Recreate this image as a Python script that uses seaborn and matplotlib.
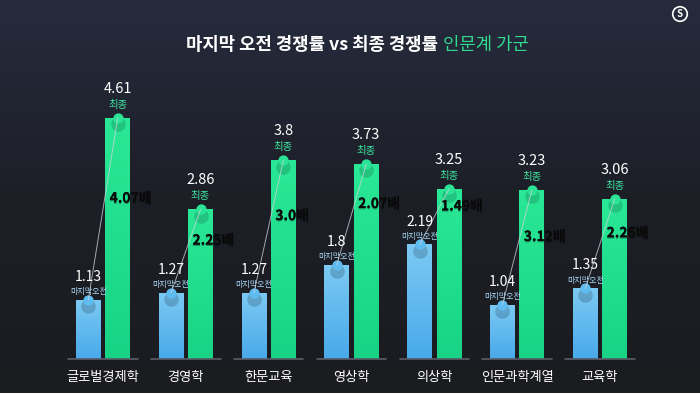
import numpy as np
import pandas as pd
import seaborn as sns
import matplotlib.pyplot as plt
import matplotlib.patheffects as pe
from matplotlib.colors import LinearSegmentedColormap

# 데이터
학과 = ['글로벌경제학', '경영학', '한문교육', '영상학', '의상학', '인문과학계열', '교육학']
오전 = [1.13, 1.27, 1.27, 1.8, 2.19, 1.04, 1.35]
최종 = [4.61, 2.86, 3.8, 3.73, 3.25, 3.23, 3.06]
배수 = ['4.07배', '2.25배', '3.0배', '2.07배', '1.49배', '3.12배', '2.26배']

sns.set_theme(style='white')
plt.rcParams['font.family'] = ['Noto Sans CJK KR', 'DejaVu Sans']

df = pd.DataFrame({'학과': 학과 * 2,
                   '값': 오전 + 최종,
                   '구분': ['오전'] * len(학과) + ['최종'] * len(학과)})

fig = plt.figure(figsize=(7, 3.93), dpi=100)

# 배경 그라데이션
bg = fig.add_axes([0, 0, 1, 1])
grad = np.linspace(0, 1, 256).reshape(-1, 1)
bg_cmap = LinearSegmentedColormap.from_list('bg', ['#262b3d', '#1d1f27', '#1b1c20'])
bg.imshow(grad, aspect='auto', cmap=bg_cmap, extent=[0, 1, 0, 1])
bg.set_xlim(0, 1)
bg.set_ylim(0, 1)
bg.axis('off')

ax = fig.add_axes([61.6 / 700, 34 / 393, 579.8 / 700, 261.5 / 393])
ax.patch.set_alpha(0)

blue = '#55b4ee'
green = '#20dc8c'
sns.barplot(data=df, x='학과', y='값', hue='구분', palette=[blue, green],
            width=0.71, gap=0.155, legend=False, ax=ax, saturation=1,
            linewidth=0, edgecolor='none')

# 막대 그라데이션
blue_cmap = LinearSegmentedColormap.from_list('b', ['#48a9ea', '#7ccaf3'])
green_cmap = LinearSegmentedColormap.from_list('g', ['#18d385', '#2ae896'])
vgrad = np.linspace(1, 0, 256).reshape(-1, 1)
for i, p in enumerate(ax.patches):
    if p.get_height() <= 0:
        continue
    x0, w, h = p.get_x(), p.get_width(), p.get_height()
    cmap = blue_cmap if i < len(학과) else green_cmap
    im = ax.imshow(vgrad, aspect='auto', cmap=cmap, extent=[x0, x0 + w, 0, h],
                   zorder=2)
    im.set_clip_path(p)
ax.set_xlim(-0.5, 6.5)
ax.set_ylim(0, 5)

off = 0.1775
for i in range(len(학과)):
    bx, gx = i - off, i + off
    # 그룹 기준선
    ax.plot([i - 0.42, i + 0.42], [0, 0], color='#5a5d66', lw=1.2,
            zorder=3, clip_on=False)
    # 상단 원 그림자
    ax.scatter([bx], [오전[i] - 0.12], s=110, color='#1d3b55', alpha=0.25,
               zorder=4, linewidths=0)
    ax.scatter([gx], [최종[i] - 0.12], s=110, color='#0d5e3e', alpha=0.25,
               zorder=4, linewidths=0)
    ax.scatter([bx], [오전[i]], s=55, color='#5fbcf1', zorder=5, linewidths=0)
    ax.scatter([gx], [최종[i]], s=55, color='#2be394', zorder=5, linewidths=0)
    # 연결선
    ax.plot([bx, gx], [오전[i], 최종[i]], color='#d0d4dc', lw=0.7,
            alpha=0.75, zorder=6)

    # 값 라벨
    ax.annotate(f'{오전[i]:g}', (bx, 오전[i]), xytext=(0, 16.5),
                textcoords='offset points', ha='center', va='center',
                fontsize=10, color='white', fontweight='light', zorder=7)
    ax.annotate('마지막오전', (bx, 오전[i]), xytext=(0, 6),
                textcoords='offset points', ha='center', va='center',
                fontsize=5.8, color='#a9d9f6', zorder=7)
    ax.annotate(f'{최종[i]:g}', (gx, 최종[i]), xytext=(0, 21),
                textcoords='offset points', ha='center', va='center',
                fontsize=10.5, color='white', fontweight='light', zorder=7)
    ax.annotate('최종', (gx, 최종[i]), xytext=(0, 9.5),
                textcoords='offset points', ha='center', va='center',
                fontsize=7.5, color='#3ee6a0', fontweight='medium', zorder=7)

    # 배수 라벨
    ax.text(i + 0.08, (오전[i] + 최종[i]) / 2 + 0.2, 배수[i], ha='left',
            va='center', fontsize=10, fontweight='bold', color='#0a0a0a',
            zorder=8,
            path_effects=[pe.withSimplePatchShadow(offset=(0, -1),
                                                   shadow_rgbFace='#000000',
                                                   alpha=0.35),
                          pe.Normal()])

ax.set_xlabel('')
ax.set_ylabel('')
ax.set_yticks([])
ax.tick_params(axis='x', length=0, pad=9, colors='white', labelsize=9.5)
for lbl in ax.get_xticklabels():
    lbl.set_fontweight('medium')
sns.despine(ax=ax, left=True, bottom=True)

# 제목
fig.text(438 / 700, 0.885, '마지막 오전 경쟁률 vs 최종 경쟁률', ha='right',
         va='center', fontsize=12.8, fontweight='bold', color='white')
fig.text(443 / 700, 0.885, '인문계 가군', ha='left', va='center',
         fontsize=12.8, color='#2fd98e')

# 로고
bg.scatter([680 / 700], [1 - 14 / 393], s=110, facecolors='none',
           edgecolors='white', linewidths=1.2)
bg.text(680 / 700, 1 - 14 / 393, 'S', ha='center', va='center',
        fontsize=7, color='white', fontweight='bold')

fig.savefig('out.png', dpi=100)
